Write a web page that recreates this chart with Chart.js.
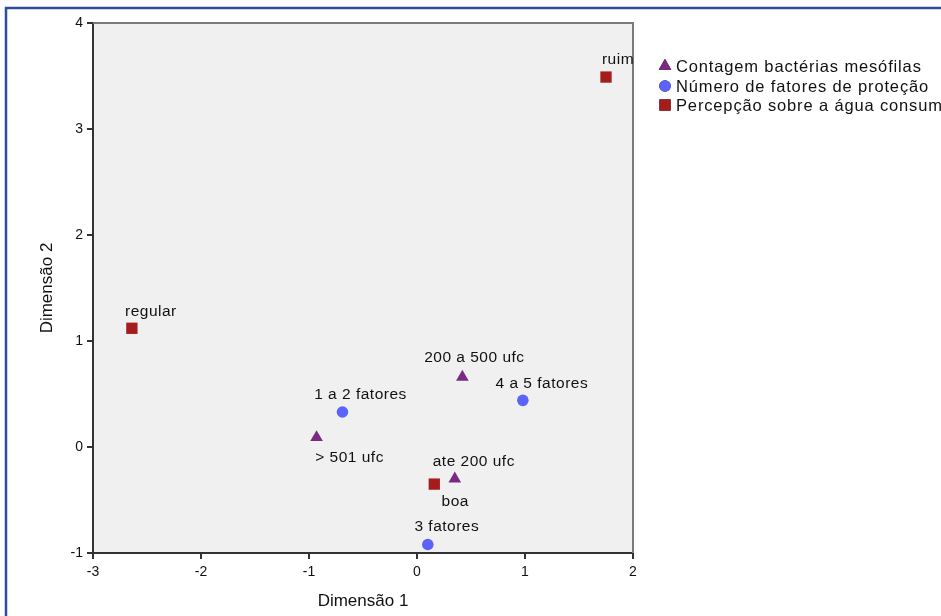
<!DOCTYPE html>
<html>
<head>
<meta charset="utf-8">
<script src="https://cdn.jsdelivr.net/npm/chart.js@4/dist/chart.umd.min.js"></script>
<style>
  html, body { margin: 0; padding: 0; background: #ffffff; }
  #wrap { width: 941px; height: 616px; }
</style>
</head>
<body>
<div id="wrap"><canvas id="c" width="941" height="616"></canvas></div>
<script>
// Category points in the two-dimensional solution
const bacteriaLabels = ['200 a 500 ufc', '> 501 ufc', 'ate 200 ufc'];
const bacteriaDim1 = [0.42, -0.93, 0.35];
const bacteriaDim2 = [0.66, 0.09, -0.30];

const protecaoLabels = ['4 a 5 fatores', '1 a 2 fatores', '3 fatores'];
const protecaoDim1 = [0.98, -0.69, 0.10];
const protecaoDim2 = [0.44, 0.33, -0.92];

const percepcaoLabels = ['ruim', 'regular', 'boa'];
const percepcaoDim1 = [1.75, -2.64, 0.16];
const percepcaoDim2 = [3.49, 1.12, -0.35];

const seriesNames = ['Contagem bactérias mesófilas', 'Número de fatores de proteção', 'Percepção sobre a água consumida'];
const axisTicks = { xMin: -3, xMax: 2, yMin: -1, yMax: 4 };

const FONT = '"Liberation Sans", Arial, sans-serif';

function toPoints(xs, ys, labels) {
  return xs.map((x, i) => ({ x: x, y: ys[i], label: labels[i] }));
}

// Where each point label sits relative to its marker (px)
const labelPlacement = {
  '200 a 500 ufc': [12, -19],
  '> 501 ufc': [33, 20],
  'ate 200 ufc': [19, -17],
  '4 a 5 fatores': [19, -17],
  '1 a 2 fatores': [18, -17],
  '3 fatores': [19, -18],
  'ruim': [12, -17],
  'regular': [19, -17],
  'boa': [21, 18]
};

const decorPlugin = {
  id: 'decor',
  beforeDraw(chart) {
    const { ctx, chartArea: a } = chart;
    ctx.save();
    ctx.fillStyle = '#f0f0f0';
    ctx.fillRect(a.left, a.top, a.right - a.left, a.bottom - a.top);
    // outer frame
    ctx.strokeStyle = '#2e4c9e';
    ctx.lineWidth = 2.5;
    ctx.beginPath();
    ctx.moveTo(6, 620);
    ctx.lineTo(6, 8);
    ctx.lineTo(945, 8);
    ctx.stroke();
    ctx.restore();
  },
  afterDraw(chart) {
    const { ctx, chartArea: a } = chart;
    ctx.save();
    // top and right edges of the plot box
    ctx.strokeStyle = '#7a7a7a';
    ctx.lineWidth = 2;
    ctx.beginPath();
    ctx.moveTo(a.left, a.top);
    ctx.lineTo(a.right, a.top);
    ctx.lineTo(a.right, a.bottom);
    ctx.stroke();

    // point labels
    ctx.font = '15.5px ' + FONT;
    ctx.letterSpacing = '0.5px';
    ctx.fillStyle = '#111111';
    ctx.textAlign = 'center';
    ctx.textBaseline = 'middle';
    chart.data.datasets.forEach((ds, di) => {
      const meta = chart.getDatasetMeta(di);
      meta.data.forEach((el, i) => {
        const lbl = ds.data[i].label;
        const off = labelPlacement[lbl] || [0, -16];
        ctx.fillText(lbl, el.x + off[0], el.y + off[1]);
      });
    });

    // legend
    ctx.font = '16.5px ' + FONT;
    ctx.letterSpacing = '0.85px';
    ctx.textAlign = 'left';
    const rows = [66, 86, 105];
    chart.data.datasets.forEach((ds, di) => {
      const y = rows[di];
      Chart.helpers.drawPoint(ctx, {
        pointStyle: ds.pointStyle,
        radius: ds.pointRadius,
        borderWidth: 0
      }, 665, y);
      ctx.fillStyle = ds.backgroundColor;
      ctx.fill();
      ctx.fillStyle = '#111111';
      ctx.fillText(ds.label, 676, y + 1);
    });
    ctx.restore();
  }
};

new Chart(document.getElementById('c'), {
  type: 'scatter',
  data: {
    datasets: [
      {
        label: seriesNames[0],
        data: toPoints(bacteriaDim1, bacteriaDim2, bacteriaLabels),
        pointStyle: 'triangle',
        pointRadius: 7.3,
        backgroundColor: '#7b2a83',
        borderWidth: 0
      },
      {
        label: seriesNames[1],
        data: toPoints(protecaoDim1, protecaoDim2, protecaoLabels),
        pointStyle: 'circle',
        pointRadius: 5.8,
        backgroundColor: '#5b63fb',
        borderWidth: 0
      },
      {
        label: seriesNames[2],
        data: toPoints(percepcaoDim1, percepcaoDim2, percepcaoLabels),
        pointStyle: 'rect',
        pointRadius: 8,
        backgroundColor: '#a51c1c',
        borderWidth: 0
      }
    ]
  },
  options: {
    responsive: false,
    animation: false,
    events: [],
    layout: { padding: { left: 0, top: 23, right: 308, bottom: 0 } },
    plugins: {
      legend: { display: false },
      tooltip: { enabled: false }
    },
    scales: {
      x: {
        type: 'linear',
        min: axisTicks.xMin,
        max: axisTicks.xMax,
        afterFit(s) { s.height = 63; },
        ticks: { stepSize: 1, color: '#111111', font: { family: FONT, size: 14 }, padding: 5 },
        grid: { drawOnChartArea: false, drawTicks: true, tickLength: 6, color: '#333333', lineWidth: 2 },
        border: { display: true, color: '#333333', width: 2 },
        title: { display: true, text: 'Dimensão 1', color: '#111111', font: { family: FONT, size: 17 }, padding: { top: 4, bottom: 4 } }
      },
      y: {
        type: 'linear',
        min: axisTicks.yMin,
        max: axisTicks.yMax,
        afterFit(s) { s.width = 93; },
        ticks: { stepSize: 1, color: '#111111', font: { family: FONT, size: 14 }, padding: 4 },
        grid: { drawOnChartArea: false, drawTicks: true, tickLength: 6, color: '#333333', lineWidth: 2 },
        border: { display: true, color: '#333333', width: 2 },
        title: { display: true, text: 'Dimensão 2', color: '#111111', font: { family: FONT, size: 17 }, padding: { top: 37, bottom: 4 } }
      }
    }
  },
  plugins: [decorPlugin]
});
</script>
</body>
</html>
